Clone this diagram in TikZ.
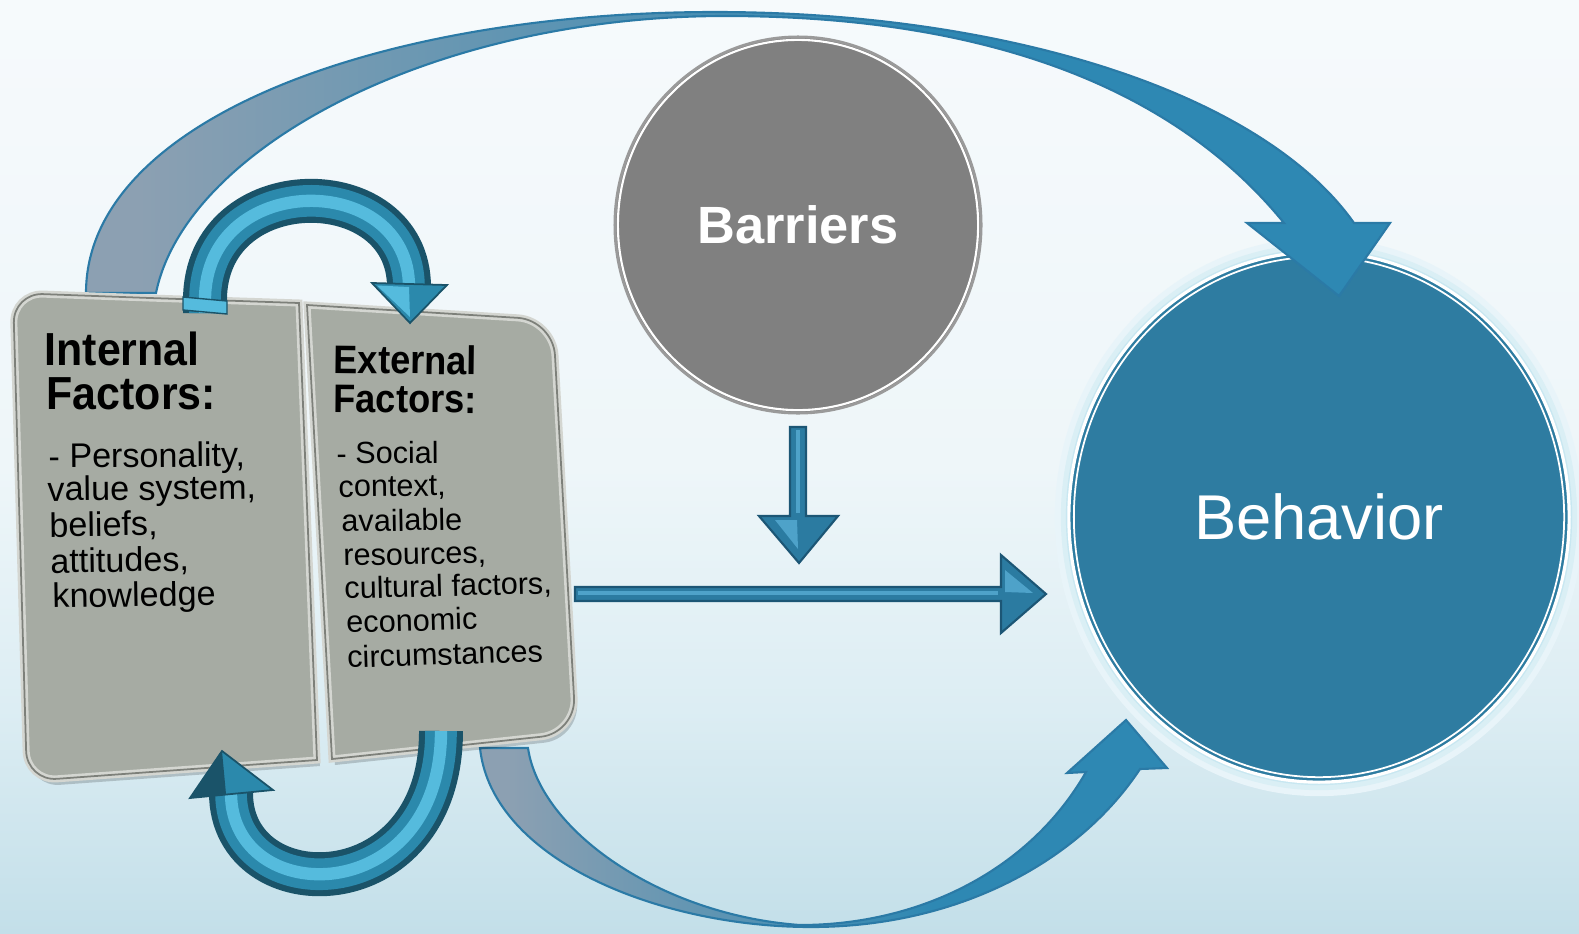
\documentclass[tikz,border=0pt]{standalone}
\usepackage{fontspec}
\setmainfont{Liberation Sans}
\usetikzlibrary{shapes.geometric}

\definecolor{bgtop}{HTML}{F6FAFC}
\definecolor{bgmid}{HTML}{EEF6F9}
\definecolor{bgmidlow}{HTML}{DCEDF3}
\definecolor{bgbot}{HTML}{C3DFE9}
\definecolor{behblue}{HTML}{2E7CA1}
\definecolor{glow}{HTML}{C8E7F1}
\definecolor{barrgray}{HTML}{808080}
\definecolor{barrrim}{HTML}{9A9A9A}
\definecolor{bandgray}{HTML}{8CA0B2}
\definecolor{bandblue}{HTML}{2E88B3}
\definecolor{bandedge}{HTML}{2B7AA6}
\definecolor{panelfill}{HTML}{A6ABA3}
\definecolor{panelrim}{HTML}{D4D6D1}
\definecolor{paneledge}{HTML}{7D807A}
\definecolor{tubedark}{HTML}{1A5369}
\definecolor{tubemid}{HTML}{2B89AC}
\definecolor{tubelight}{HTML}{55BBDD}
\definecolor{flatblue}{HTML}{2B7BA1}
\definecolor{flatdark}{HTML}{1C5675}
\definecolor{flatlight}{HTML}{4EA2C9}

% ribbon colour runs from grey-blue on the left to blue on the right
\pgfdeclarehorizontalshading{bandshade}{100bp}{color(0bp)=(bandgray); color(27bp)=(bandgray); color(58bp)=(bandblue); color(100bp)=(bandblue)}
% pale sky background, bluer towards the bottom
\pgfdeclareverticalshading{backshade}{100bp}{color(0bp)=(bgbot); color(25bp)=(bgbot); color(37bp)=(bgmidlow); color(50bp)=(bgmid); color(75bp)=(bgtop); color(100bp)=(bgtop)}

\begin{document}
\begin{tikzpicture}[x=0.01cm, y=-0.01cm,
  band/.style={shade, shading=bandshade, draw=bandedge, line width=0.6pt},
  panel/.style={fill=panelfill, draw=panelrim, line width=2pt,
    preaction={fill=black, opacity=0.18, transform canvas={shift={(0.3mm,-0.6mm)}}},
    postaction={draw=paneledge, line width=0.5pt}},
  tube/.style={draw=tubedark, line width=12.5pt, line cap=butt,
    postaction={draw=tubemid, line width=9pt},
    postaction={draw=tubelight, line width=3.5pt}},
  tubehead/.style={fill=tubemid, draw=tubedark, line width=0.5pt},
  flat/.style={fill=flatblue, draw=flatdark, line width=0.6pt},
  inhead/.style={anchor=base west, inner sep=0pt, font=\fontsize{12.2pt}{14pt}\selectfont\bfseries},
  inbody/.style={anchor=base west, inner sep=0pt, font=\fontsize{9.7pt}{11pt}\selectfont},
  exhead/.style={anchor=base west, inner sep=0pt, font=\fontsize{10.3pt}{12pt}\selectfont\bfseries},
  exbody/.style={anchor=base west, inner sep=0pt, font=\fontsize{8.7pt}{10pt}\selectfont}]

\useasboundingbox (0,0) rectangle (1579,933);
\shade[shading=backshade] (0,0) rectangle (1579,933);

% Behavior circle with its soft halo
\fill[glow!30!bgtop] (1319,517) ellipse [x radius=2.64cm, y radius=2.79cm];
\fill[glow!60!bgtop] (1319,517) ellipse [x radius=2.58cm, y radius=2.73cm];
\fill[glow] (1319,517) ellipse [x radius=2.53cm, y radius=2.68cm];
\node[ellipse, fill=behblue, draw=white, line width=0.9pt, minimum width=5cm, minimum height=5.3cm,
      inner sep=0pt, text=white, font=\fontsize{18pt}{20pt}\selectfont] (behavior) at (1319,517) {Behavior};
\draw[white, line width=0.5pt] (behavior.center) ellipse [x radius=2.45cm, y radius=2.6cm];

% Barriers circle
\node[ellipse, fill=barrgray, draw=barrrim, line width=0.8pt, minimum width=3.66cm, minimum height=3.76cm,
      inner sep=0pt, text=white, font=\fontsize{14.9pt}{17pt}\selectfont\bfseries] (barriers) at (798,225) {Barriers};
\draw[white, line width=0.6pt] (barriers.center) ellipse [x radius=1.80cm, y radius=1.85cm];

% upper ribbon arrow: internal factors -> behavior
\path[band] (86,293) .. controls (86,120) and (380,12) .. (715,12)
  .. controls (1000,12) and (1260,90) .. (1354,223)
  -- (1390,223) -- (1339,296) -- (1247,223) -- (1284,223)
  .. controls (1180,95) and (1000,16) .. (725,16)
  .. controls (430,16) and (185,150) .. (156,293) -- cycle;

% lower ribbon arrow: external factors -> behavior
\path[band] (480,748) .. controls (492,860) and (660,927) .. (811,927)
  .. controls (960,927) and (1080,860) .. (1140,769)
  -- (1167,768) -- (1126,720) -- (1067,773) -- (1086,772)
  .. controls (1030,870) and (920,925) .. (800,925)
  .. controls (660,915) and (540,830) .. (528,748) -- cycle;

% the two factor panels
\path[panel] (150,298) [rounded corners=8.5pt] -- (13,293) -- (27,781) -- (170,770.6)
  [sharp corners] -- (317,760) -- (299,303) -- cycle;
\path[panel] (332,759) -- (307,305) -- (430,312.5) [rounded corners=10pt] -- (553,320)
  -- (576,733) -- (454,746) [sharp corners] -- cycle;

% curved arrows between the panels
\draw[tube] (205,313) -- (205,300) .. controls (205,170) and (409,170) .. (409,287);
\fill[tubelight, draw=tubedark, line width=0.4pt] (183,297) -- (227,301) -- (227,314) -- (183,310) -- cycle;
\path[tubehead] (372,283) -- (447,285) -- (410,323) -- cycle;
\fill[tubelight] (377,285.5) -- (409,287) -- (410,317) -- cycle;

\draw[tube] (441,731) .. controls (441,910) and (231,910) .. (231,793);
\path[tubehead] (190,798) -- (273,790) -- (222,751) -- cycle;
\fill[tubedark] (190,798) -- (222,751) -- (226,794) -- cycle;

% straight arrows
\coordinate (barrtip) at (799,563);
\coordinate (factip) at (1046,594);
\begin{scope}[shift={(barrtip)}]
  \path[flat] (-9,-136) -- (7,-136) -- (7,-47) -- (39,-47) -- (0,0) -- (-40,-47) -- (-9,-47) -- cycle;
  \draw[flatlight, line width=1pt] (-1,-133) -- (-1,-50);
  \fill[flatlight] (-24,-43) -- (-2,-43) -- (-1,-14) -- cycle;
\end{scope}
\begin{scope}[shift={(factip)}]
  \path[flat] (-471,-7) -- (-45,-7) -- (-45,-39) -- (0,0) -- (-45,39) -- (-45,7) -- (-471,7) -- cycle;
  \draw[flatlight, line width=1pt] (-468,-1) -- (-48,-1);
  \fill[flatlight] (-41,-24) -- (-41,-2) -- (-13,-1) -- cycle;
\end{scope}

% panel texts
\node[inhead] (in1) at (44,365) {\scalebox{1}[1.08]{Internal}};
\node[inhead] (in2) at (46,409) {\scalebox{1}[1.08]{Factors:}};
\node[inbody, rotate=0.4] (in3) at (48,468) {- Personality,};
\node[inbody, rotate=0.6] (in4) at (47,501) {value system,};
\node[inbody, rotate=0.8] (in5) at (49,537) {beliefs,};
\node[inbody, rotate=0.9] (in6) at (50,573) {attitudes,};
\node[inbody, rotate=1.0] (in7) at (52,608) {knowledge};

\node[exhead, rotate=-0.7] (ex1) at (333,373) {\scalebox{1}[1.1]{External}};
\node[exhead, rotate=-0.5] (ex2) at (333,412) {\scalebox{1}[1.1]{Factors:}};
\node[exbody, rotate=0.3] (ex3) at (336,464) {- Social};
\node[exbody, rotate=0.7] (ex4) at (338,497) {context,};
\node[exbody, rotate=1.0] (ex5) at (341,532) {available};
\node[exbody, rotate=1.2] (ex6) at (343,566) {resources,};
\node[exbody, rotate=1.5] (ex7) at (344,599) {cultural factors,};
\node[exbody, rotate=1.7] (ex8) at (346,633) {economic};
\node[exbody, rotate=1.9] (ex9) at (347,668) {circumstances};

\end{tikzpicture}
\end{document}
